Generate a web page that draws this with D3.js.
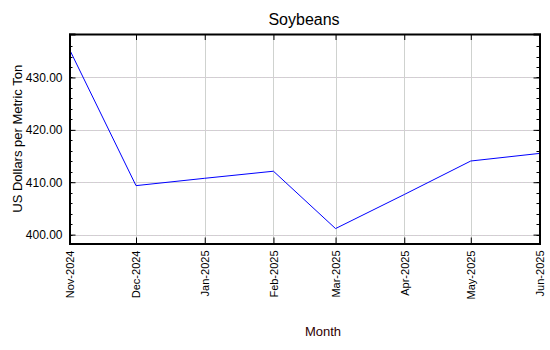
<!DOCTYPE html>
<html>
<head>
    <style>
        body { margin: 0; background: #fff; }
        text { font-family: "Liberation Sans", Arial, sans-serif; }
    </style>
    <script src="https://d3js.org/d3.v7.min.js"></script>
</head>
<body>
<svg width="550" height="350"></svg>
<script>
    // data
    let months = ["2024-11-01", "2024-12-01", "2025-01-01", "2025-02-01", "2025-03-01", "2025-04-01", "2025-05-01", "2025-06-01"];
    let prices = [435.35, 409.35, 410.75, 412.1, 401.15, 407.65, 414.05, 415.5];
    let yTicks = [400, 410, 420, 430];

    let svg = d3.select("svg"),
        plotL = 69.5, plotR = 539.5, plotT = 34, plotB = 243.5;

    let parse = d3.timeParse("%Y-%m-%d");
    let dates = months.map(parse);

    let x = d3.scaleTime()
        .domain(d3.extent(dates))
        .range([plotL, plotR]);

    let y = d3.scaleLinear()
        .domain([398.3, 438.3])
        .range([plotB, plotT]);

    // grid
    let grid = svg.append("g");
    grid.selectAll(".vg").data(dates.slice(1, -1)).enter().append("line")
        .attr("x1", d => Math.round(x(d)) + 0.5).attr("x2", d => Math.round(x(d)) + 0.5)
        .attr("y1", plotT).attr("y2", plotB)
        .attr("stroke", "#cfd2cf");
    grid.selectAll(".hg").data(yTicks).enter().append("line")
        .attr("x1", plotL).attr("x2", plotR)
        .attr("y1", d => Math.round(y(d)) + 0.5).attr("y2", d => Math.round(y(d)) + 0.5)
        .attr("stroke", "#cfd2cf");
    grid.selectAll(".hd").data(yTicks).enter().append("line")
        .attr("x1", plotL).attr("x2", plotR)
        .attr("y1", d => Math.round(y(d)) + 0.5).attr("y2", d => Math.round(y(d)) + 0.5)
        .attr("stroke", "#dcc4dc").attr("stroke-dasharray", "1,3");

    // line
    let line = d3.line()
        .x((d, i) => x(dates[i]))
        .y(d => y(d));

    svg.append("path")
        .datum(prices)
        .attr("d", line)
        .attr("fill", "none")
        .attr("stroke", "#0000ff")
        .attr("stroke-width", 1);

    // axes with inward ticks
    let minor = d3.range(400, 438, 2);

    let yLeft = svg.append("g").attr("transform", "translate(" + plotL + ",0)")
        .call(d3.axisLeft(y).tickValues(yTicks).tickSize(-6).tickPadding(7).tickFormat(d3.format(".2f")));
    yLeft.selectAll(".minor").data(minor).enter().append("line")
        .attr("x1", 0).attr("x2", 3)
        .attr("y1", d => Math.round(y(d)) + 0.5).attr("y2", d => Math.round(y(d)) + 0.5)
        .attr("stroke", "#000");

    let yRight = svg.append("g").attr("transform", "translate(" + plotR + ",0)")
        .call(d3.axisRight(y).tickValues(yTicks).tickSize(-6).tickFormat(""));
    yRight.selectAll(".minor").data(minor).enter().append("line")
        .attr("x1", 0).attr("x2", -3)
        .attr("y1", d => Math.round(y(d)) + 0.5).attr("y2", d => Math.round(y(d)) + 0.5)
        .attr("stroke", "#000");

    svg.append("g").attr("transform", "translate(0," + plotT + ")")
        .call(d3.axisTop(x).tickValues(dates).tickSize(-6).tickFormat(""));

    let xBottom = svg.append("g").attr("transform", "translate(0," + plotB + ")")
        .call(d3.axisBottom(x).tickValues(dates).tickSize(-6).tickFormat(d3.timeFormat("%b-%Y")));
    xBottom.selectAll("text")
        .attr("transform", "rotate(-90)")
        .attr("text-anchor", "end")
        .attr("x", -7)
        .attr("y", 0)
        .attr("dy", "0.35em");

    svg.selectAll(".domain").attr("stroke", "#000").attr("stroke-width", 2);
    svg.selectAll(".tick line").attr("stroke", "#000");
    svg.selectAll(".tick text").attr("font-size", 11).attr("fill", "#000")
        .attr("font-family", "'Liberation Sans', Arial, sans-serif");
    yLeft.selectAll(".tick text").attr("font-size", 12);

    // titles
    svg.append("text")
        .attr("x", 304).attr("y", 25)
        .attr("text-anchor", "middle")
        .attr("font-size", 16)
        .text("Soybeans");

    svg.append("text")
        .attr("transform", "translate(22," + (plotT + plotB) / 2 + ") rotate(-90)")
        .attr("text-anchor", "middle")
        .attr("font-size", 13)
        .text("US Dollars per Metric Ton");

    svg.append("text")
        .attr("x", 323).attr("y", 336)
        .attr("text-anchor", "middle")
        .attr("font-size", 13)
        .attr("fill", "#300000")
        .text("Month");
</script>
</body>
</html>
